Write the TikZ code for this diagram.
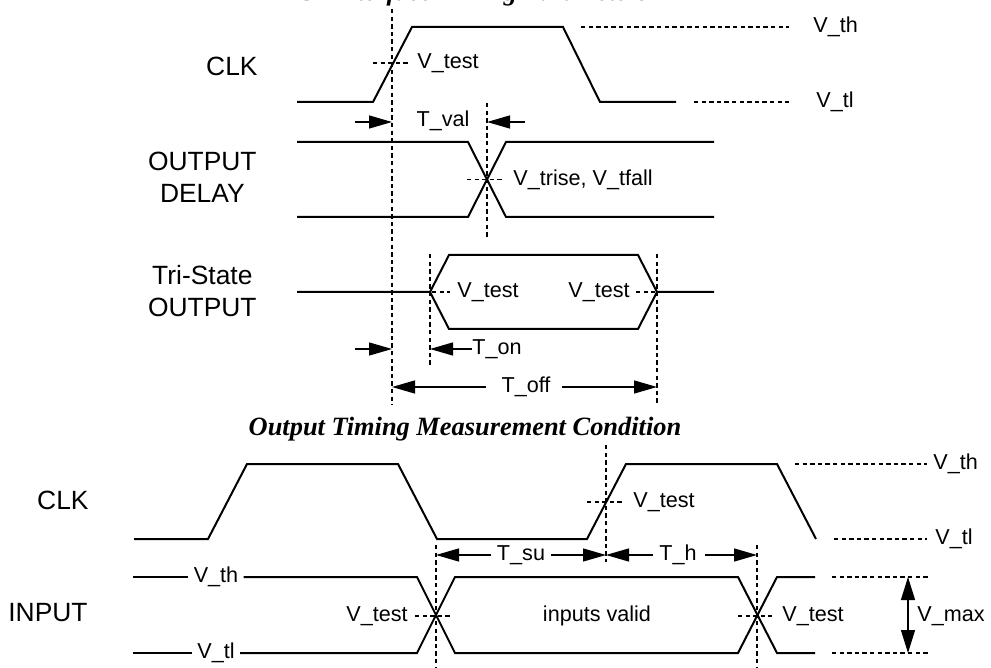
\documentclass[tikz,border=0pt]{standalone}
\usepackage{fontspec}
\setmainfont{Liberation Sans}
\newfontfamily\capfont{Liberation Serif}
\usetikzlibrary{arrows.meta,positioning}

\begin{document}
\begin{tikzpicture}[x=0.5pt, y=-0.5pt, font=\fontsize{10.8}{22}\selectfont]
\tikzstyle{wave}=[line width=1pt]
\tikzstyle{guide}=[line width=0.6pt, dash pattern=on 2.2pt off 1.6pt]
\tikzstyle{dim}=[line width=0.65pt, -{Triangle[length=11.5pt,width=6.5pt]}]
\tikzstyle{lbl}=[inner sep=0pt]
\tikzstyle{sig}=[inner sep=0pt, anchor=east, align=center, font=\fontsize{13.2}{16}\selectfont]
\tikzstyle{captxt}=[inner sep=0pt, anchor=base, font=\capfont\bfseries\itshape\fontsize{13.2}{15}\selectfont]
\useasboundingbox (0,0) rectangle (991,668);

% captions
\node[captxt] (capA) at (465,1) {PCI Interface Timing Parameters};
\node[captxt] (capB) at (465,435) {Output Timing Measurement Condition};

% ---- output timing ----
\node[sig] (clkA) at (258,66) {CLK};
\node[sig] (odly) at (257,177) {OUTPUT\\DELAY};
\node[sig] (tri) at (257,291.5) {Tri-State\\OUTPUT};

\draw[wave] (297,102) -- (373,102) -- (412,27) -- (563,27) -- (600,102) -- (676,102);
\draw[guide] (581,27) -- (789,27);
\draw[guide] (694,102) -- (789,102);
\node[lbl, anchor=west] (vthA) at (813,27) {V\_th};
\node[lbl, anchor=west] (vtlA) at (816,102) {V\_tl};
\draw[guide] (373,63) -- (408,63);
\node[lbl, anchor=west] (vtA) at (417,63) {V\_test};

\draw[wave] (297,142) -- (468,142) -- (506,217) -- (714,217);
\draw[wave] (297,217) -- (468,217) -- (506,142) -- (714,142);
\draw[guide] (467,179.5) -- (503,179.5);
\node[lbl, anchor=west] (vtr) at (513,179.5) {V\_trise, V\_tfall};

\draw[wave] (297,292) -- (430,292) -- (449,255) -- (638,255) -- (657,292) -- (714,292);
\draw[wave] (430,292) -- (449,329) -- (638,329) -- (657,292);
\draw[guide] (432,292) -- (450,292);
\node[lbl, anchor=west] (vtB) at (457,292) {V\_test};
\draw[guide] (636,292) -- (655,292);
\node[lbl, anchor=east] (vtC) at (630,292) {V\_test};

% guide lines and measures
\coordinate (gA) at (392,9);
\coordinate (gB) at (487,103);
\coordinate (gC) at (430,254);
\coordinate (gD) at (657,254);
\draw[guide] (gA) -- (392,405);
\draw[guide] (gB) -- (487,237);
\draw[guide] (gC) -- (430,366);
\draw[guide] (gD) -- (657,405);

\node[lbl] (tval) at (443,121) {T\_val};
\draw[dim] (355,122) -- (392,122);
\draw[dim] (525,122) -- (487,122);

\node[lbl, anchor=west] (ton) at (472,349) {T\_on};
\draw[dim] (355,349) -- (392,349);
\draw[dim] (ton.west) -- (430,349);

\node[lbl] (toff) at (526,387) {T\_off};
\draw[dim] ([xshift=-7.5pt]toff.west) -- (392,387);
\draw[dim] ([xshift=5.5pt]toff.east) -- (657,387);

% ---- input timing ----
\node[sig] (clkB) at (89,500) {CLK};
\node[sig] (inp) at (88,613) {INPUT};

\draw[wave] (134,539) -- (208,539) -- (247,464) -- (398,464) -- (437,539) -- (587,539) -- (626,464) -- (777,464) -- (816,539);
\draw[guide] (795,464) -- (927,464);
\draw[guide] (834,539) -- (927,539);
\node[lbl, anchor=west] (vthB) at (933,464) {V\_th};
\node[lbl, anchor=west] (vtlB) at (935,539) {V\_tl};
\draw[guide] (587,502) -- (622,502);
\node[lbl, anchor=west] (vtD) at (633,502) {V\_test};

\node[lbl] (vthC) at (216,577) {V\_th};
\node[lbl] (vtlC) at (216,653) {V\_tl};
\draw[wave] (133,577) -- ([xshift=-2.5pt]vthC.west);
\draw[wave] (133,653) -- ([xshift=-2.5pt]vtlC.west);
\draw[wave] ([xshift=2.5pt]vthC.east) -- (417,577) -- (455,653) -- (738,653) -- (777,577) -- (815,577);
\draw[wave] ([xshift=2.5pt]vtlC.east) -- (417,653) -- (455,577) -- (738,577) -- (777,653) -- (815,653);
\draw[guide] (415,616) -- (452,616);
\node[lbl, anchor=east] (vtE) at (408,616) {V\_test};
\draw[guide] (738,616) -- (772,616);
\node[lbl, anchor=west] (vtF) at (782,616) {V\_test};
\node[lbl] (valid) at (597,616) {inputs valid};

\coordinate (gE) at (436,545);
\coordinate (gF) at (606,445);
\coordinate (gG) at (757,545);
\draw[guide] (gE) -- (436,668);
\draw[guide] (gF) -- (606,562);
\draw[guide] (gG) -- (757,668);

\node[lbl] (tsu) at (521,555) {T\_su};
\draw[dim] ([xshift=-3pt]tsu.west) -- (436,555);
\draw[dim] ([xshift=3pt]tsu.east) -- (606,555);
\node[lbl] (th) at (678,555) {T\_h};
\draw[dim] ([xshift=-3pt]th.west) -- (606,555);
\draw[dim] ([xshift=4pt]th.east) -- (757,555);

\draw[guide] (832,577) -- (928,577);
\draw[guide] (832,653) -- (928,653);
\coordinate (vmT) at (908,577);
\coordinate (vmB) at (908,653);
\draw[dim, {Triangle[length=11.5pt,width=7pt]}-{Triangle[length=11.5pt,width=7pt]}] (vmT) -- (vmB);
\node[lbl, anchor=west] (vmax) at (917,616) {V\_max};
\end{tikzpicture}
\end{document}
